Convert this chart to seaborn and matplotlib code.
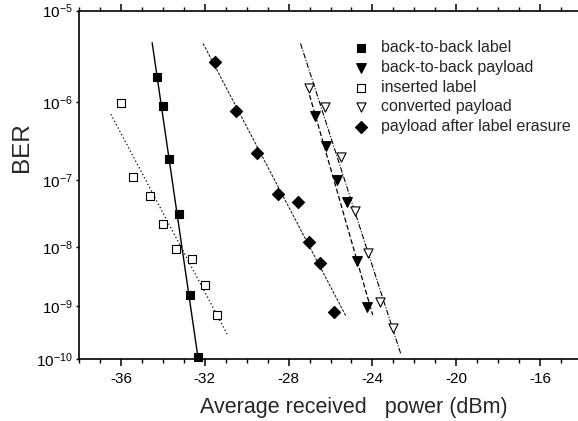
import numpy as np
import pandas as pd
import matplotlib
matplotlib.use("Agg")
import matplotlib.pyplot as plt
import seaborn as sns
from matplotlib.ticker import FixedLocator, MultipleLocator, FixedFormatter

# ---------------- data ----------------
label_x = [-34.30, -34.01, -33.71, -33.22, -32.71, -32.33]
label_ber = [2.0e-6, 9.0e-7, 1.9e-7, 3.2e-8, 1.6e-9, 1.1e-10]

payload_x = [-26.74, -26.21, -25.71, -25.20, -24.73, -24.24]
payload_ber = [6.8e-7, 2.9e-7, 1.0e-7, 4.8e-8, 5.9e-9, 9.8e-10]

inserted_x = [-36.00, -35.41, -34.62, -34.01, -33.38, -32.59, -32.00, -31.41]
inserted_ber = [9.8e-7, 1.09e-7, 6.0e-8, 2.3e-8, 9.2e-9, 6.4e-9, 2.4e-9, 7.1e-10]

converted_x = [-27.03, -26.25, -25.52, -24.81, -24.22, -23.63, -23.01]
converted_ber = [1.46e-6, 8.7e-7, 2.07e-7, 3.6e-8, 8.0e-9, 1.18e-9, 4.0e-10]

erasure_x = [-31.52, -30.52, -29.51, -28.52, -27.54, -27.03, -26.52, -25.84]
erasure_ber = [2.9e-6, 7.9e-7, 2.3e-7, 6.25e-8, 4.8e-8, 1.22e-8, 5.5e-9, 8.0e-10]

# fitted lines (end points)
label_fit_x = [-34.51, -32.31]
label_fit_ber = [4.7e-6, 1.0e-10]
payload_fit_x = [-27.00, -23.99]
payload_fit_ber = [1.22e-6, 7.0e-10]
inserted_fit_x = [-36.48, -30.92]
inserted_fit_ber = [7.2e-7, 3.0e-10]
converted_fit_x = [-27.43, -22.63]
converted_fit_ber = [4.6e-6, 1.22e-10]
erasure_fit_x = [-32.08, -25.25]
erasure_fit_ber = [4.6e-6, 6.5e-10]

series_names = ["back-to-back label", "back-to-back payload", "inserted label",
                "converted payload", "payload after label erasure"]
x_ticks = [-36, -32, -28, -24, -20, -16]
x_tick_labels = ["-36", "-32", "-28", "-24", "-20", "-16"]
y_ticks = [1e-10, 1e-9, 1e-8, 1e-7, 1e-6, 1e-5]
y_tick_labels = [r"$\mathregular{10^{-10}}$", r"$\mathregular{10^{-9}}$",
                 r"$\mathregular{10^{-8}}$", r"$\mathregular{10^{-7}}$",
                 r"$\mathregular{10^{-6}}$", r"$\mathregular{10^{-5}}$"]

# ---------------- style ----------------
sns.set_style("ticks")
plt.rcParams["font.family"] = ["Liberation Sans", "DejaVu Sans"]
plt.rcParams["axes.unicode_minus"] = False
plt.rcParams["mathtext.fontset"] = "custom"
plt.rcParams["mathtext.rm"] = "Liberation Sans"

fig = plt.figure(figsize=(5.78, 4.21), dpi=100)
ax = fig.add_axes([79 / 578, 61.7 / 421, (582 - 79) / 578, (359.3 - 10.7) / 421])


def fwd(y):
    y = np.asarray(y, float)
    with np.errstate(all="ignore"):
        return -np.log10(-np.log10(y))


def inv(t):
    t = np.asarray(t, float)
    with np.errstate(all="ignore"):
        return 10 ** (-(10 ** (-t)))


ax.set_yscale("function", functions=(fwd, inv))
ax.set_xlim(-38, -14)
ax.set_ylim(1e-10, 1e-5)

# fit lines
lw = 0.9
ax.plot(label_fit_x, label_fit_ber, color="black", lw=1.0, ls="-")
ax.plot(payload_fit_x, payload_fit_ber, color="black", lw=lw, ls=(0, (4, 2)))
ax.plot(inserted_fit_x, inserted_fit_ber, color="black", lw=lw, ls=(0, (1, 2)))
ax.plot(converted_fit_x, converted_fit_ber, color="black", lw=0.8, ls=(0, (5, 1.5, 1, 1.5)))
ax.plot(erasure_fit_x, erasure_fit_ber, color="#222222", lw=0.8, ls=(0, (2.5, 1.2)))

# markers
data = [
    (label_x, label_ber, "s", "black", 6.3),
    (payload_x, payload_ber, "v", "black", 7.0),
    (inserted_x, inserted_ber, "s", "white", 5.6),
    (converted_x, converted_ber, "v", "white", 6.6),
    (erasure_x, erasure_ber, "D", "black", 6.2),
]
for name, (xs, ys, mk, fc, ms) in zip(series_names, data):
    df = pd.DataFrame({"x": xs, "y": ys})
    sns.scatterplot(data=df, x="x", y="y", marker=mk, s=ms ** 2, color=fc,
                    edgecolor="black", linewidth=0.8, ax=ax, label=name,
                    clip_on=False, zorder=5)

# axes
ax.xaxis.set_major_locator(FixedLocator(x_ticks))
ax.xaxis.set_major_formatter(FixedFormatter(x_tick_labels))
ax.xaxis.set_minor_locator(MultipleLocator(1))
ax.yaxis.set_major_locator(FixedLocator(y_ticks))
ax.yaxis.set_major_formatter(FixedFormatter(y_tick_labels))
ax.yaxis.set_minor_locator(FixedLocator([]))
ax.tick_params(axis="x", which="major", direction="out", length=5, width=1.1,
               top=True, labelsize=11, pad=4, color="black", labelcolor="black")
ax.tick_params(axis="x", which="minor", direction="out", length=3, width=1.0,
               top=True, color="black")
ax.tick_params(axis="y", which="major", direction="out", length=2.5, width=1.0,
               labelsize=11, pad=2, color="black", labelcolor="black")
for side in ["left", "bottom", "top"]:
    ax.spines[side].set_linewidth(1.2)
    ax.spines[side].set_color("black")
ax.spines["right"].set_visible(False)
ax.set_xlabel("")
ax.set_ylabel("")

fig.text(354 / 578, 1 - 408 / 421, "Average received   power (dBm)", ha="center",
         va="center", fontsize=15.5)
fig.text(21.7 / 578, 1 - 147 / 421, "BER", ha="center", va="center",
         rotation=90, fontsize=17.5)

leg = ax.legend(loc="upper left", bbox_to_anchor=(353 / 578, 1 - 40.5 / 421),
                bbox_transform=fig.transFigure, frameon=False, fontsize=11.5,
                handlelength=1.0, handletextpad=0.75, labelspacing=0.29,
                borderpad=0, borderaxespad=0, markerscale=1.0)

fig.savefig("out.png", dpi=100)
